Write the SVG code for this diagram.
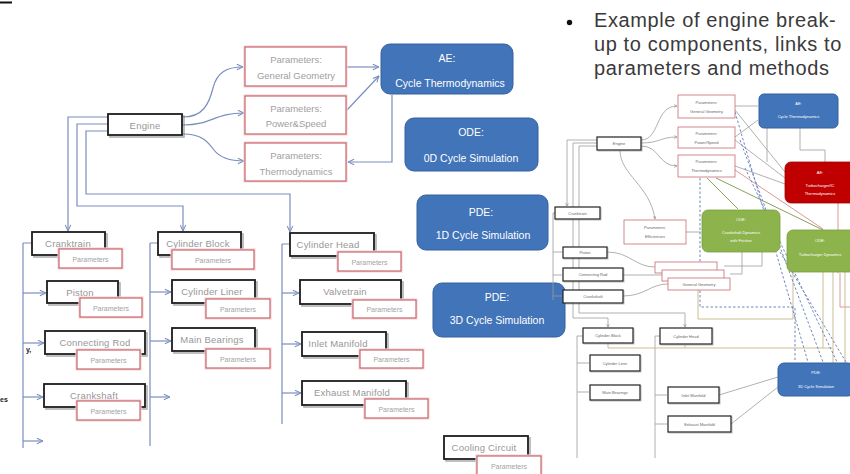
<svg xmlns="http://www.w3.org/2000/svg" width="850" height="474" viewBox="0 0 850 474">
<defs>
  <marker id="arr" viewBox="0 0 8 8" refX="7.5" refY="4" markerWidth="7" markerHeight="7" orient="auto" markerUnits="userSpaceOnUse">
    <path d="M0.5,0.8 L7.5,4 L0.5,7.2" fill="none" stroke="#7A8EBE" stroke-width="1.2"/>
  </marker>
  <marker id="marr" viewBox="0 0 6 6" refX="5.5" refY="3" markerWidth="3.5" markerHeight="3.5" orient="auto" markerUnits="userSpaceOnUse">
    <path d="M0.5,0.5 L5.5,3 L0.5,5.5" fill="none" stroke="#8a8a8a" stroke-width="1"/>
  </marker>
</defs>
<style>
  .comp { fill:#fff; stroke:#1c1c1c; stroke-width:1.8 }
  .shd { fill:none; stroke:#6d6d6d; stroke-width:1.6; opacity:.55 }
  .par { fill:#fff; stroke:#C35A62; stroke-width:1.1 }
  .halo { fill:none; stroke:#F5D5D8; stroke-width:3.2 }
  .blue { fill:#4174B8; stroke:#35619E; stroke-width:1 }
  .t { font-family:"Liberation Sans", Arial, sans-serif; text-anchor:middle; dominant-baseline:central; fill:#979797 }
  .tc { font-size:9.5px; letter-spacing:.2px }
  .tp { font-size:7px; fill:#a3a3a3 }
  .tq { font-size:9.5px; fill:#a0a0a0 }
  .tb { font-size:10.5px; fill:#fff }
  .conn path { fill:none; stroke:#7A8EBE; stroke-width:1.2 }
  /* overview sketch */
  .mc { fill:#fff; stroke:#222; stroke-width:1.2 }
  .ms { fill:none; stroke:#777; stroke-width:1; opacity:.5 }
  .mp { fill:#fff; stroke:#C96A70; stroke-width:.8 }
  .mt { font-family:"Liberation Sans", Arial, sans-serif; text-anchor:middle; dominant-baseline:central; font-size:4px; fill:#666 }
  .mw { fill:#fff }
  .ml path { fill:none; stroke:#9d9d9d; stroke-width:.8 }
  .md { fill:none; stroke:#6F88C0; stroke-width:1; stroke-dasharray:2.5 2 }
  .mo { fill:none; stroke:#8EA05A; stroke-width:1 }
  .mn { fill:none; stroke:#CBBE92; stroke-width:1 }
  .mr { fill:none; stroke:#D77C7C; stroke-width:.8 }
</style>

<rect width="850" height="474" fill="#fff"/>

<!-- fragments at the left margin -->
<rect x="0" y="1.5" width="12" height="2" fill="#111"/>
<text x="26" y="352" font-family="Liberation Sans, sans-serif" font-size="7" font-weight="bold" fill="#222">y,</text>
<text x="0" y="402" font-family="Liberation Sans, sans-serif" font-size="7" font-weight="bold" fill="#222">es</text>

<!-- ===== connectors of the engine tree ===== -->
<g id="connectors" class="conn">
  <path d="M183,117 C203,117 209,104 213,88 C217,72 227,67 243,67" marker-end="url(#arr)"/>
  <path d="M183,125 C212,125 214,113 244,113" marker-end="url(#arr)"/>
  <path d="M183,134 C202,134 208,142 214,150 C220,158 230,161 244,161" marker-end="url(#arr)"/>
  <path d="M347,67 H379" marker-end="url(#arr)"/>
  <path d="M347,110 L379,76" marker-end="url(#arr)"/>
  <path d="M392,95 V162 H348" marker-end="url(#arr)"/>
  <path d="M108,117 H68 V231" marker-end="url(#arr)"/>
  <path d="M108,124 H77 V206 H183 V231" marker-end="url(#arr)"/>
  <path d="M108,131 H86 V194 H290 V232" marker-end="url(#arr)"/>
  <!-- cranktrain column -->
  <path d="M23,243 V448 M23,243 H32"/>
  <path d="M23,293 H46" marker-end="url(#arr)"/>
  <path d="M23,343 H44" marker-end="url(#arr)"/>
  <path d="M23,397 H43" marker-end="url(#arr)"/>
  <path d="M23,441 H43" marker-end="url(#arr)"/>
  <!-- cylinder block column -->
  <path d="M150,243 V446 M150,243 H158"/>
  <path d="M150,292 H171" marker-end="url(#arr)"/>
  <path d="M150,341 H171" marker-end="url(#arr)"/>
  <path d="M150,397 H170" marker-end="url(#arr)"/>
  <!-- cylinder head column -->
  <path d="M282,244 V424 M282,244 H290"/>
  <path d="M282,293 H299" marker-end="url(#arr)"/>
  <path d="M282,344 H301" marker-end="url(#arr)"/>
  <path d="M282,393 H301" marker-end="url(#arr)"/>
</g>

<!-- ===== engine tree nodes ===== -->
<g id="engine">
  <rect class="shd" x="110" y="116" width="74" height="21"/>
  <rect class="comp" x="108" y="114" width="74" height="21"/>
  <text class="t tc" x="145" y="125">Engine</text>
</g>

<g id="params-geometry">
  <rect class="halo" x="245" y="47" width="101" height="39"/>
  <rect class="par" x="245" y="47" width="101" height="39"/>
  <text class="t tq" x="296" y="59">Parameters:</text>
  <text class="t tq" x="296" y="75">General Geometry</text>
</g>
<g id="params-power">
  <rect class="halo" x="245" y="96" width="101" height="38"/>
  <rect class="par" x="245" y="96" width="101" height="38"/>
  <text class="t tq" x="296" y="108">Parameters:</text>
  <text class="t tq" x="296" y="123">Power&amp;Speed</text>
</g>
<g id="params-thermo">
  <rect class="halo" x="245" y="143" width="101" height="38"/>
  <rect class="par" x="245" y="143" width="101" height="38"/>
  <text class="t tq" x="296" y="155">Parameters:</text>
  <text class="t tq" x="296" y="171">Thermodynamics</text>
</g>

<g id="ae-cycle">
  <rect class="blue" x="381" y="44" width="132" height="50" rx="9"/>
  <text class="t tb" x="447" y="58">AE:</text>
  <text class="t tb" x="450" y="83">Cycle Thermodynamics</text>
</g>
<g id="ode-0d">
  <rect class="blue" x="405" y="118" width="133" height="53" rx="9"/>
  <text class="t tb" x="471" y="132">ODE:</text>
  <text class="t tb" x="471" y="158">0D Cycle Simulation</text>
</g>
<g id="pde-1d">
  <rect class="blue" x="417" y="195" width="131" height="55" rx="9"/>
  <text class="t tb" x="481" y="212">PDE:</text>
  <text class="t tb" x="483" y="235">1D Cycle Simulation</text>
</g>
<g id="pde-3d">
  <rect class="blue" x="433" y="283" width="132" height="54" rx="9"/>
  <text class="t tb" x="497" y="297">PDE:</text>
  <text class="t tb" x="497" y="320">3D Cycle Simulation</text>
</g>

<!-- cranktrain branch -->
<g id="cranktrain">
  <rect class="shd" x="34" y="234" width="73" height="23"/>
  <rect class="comp" x="32" y="232" width="73" height="23"/>
  <text class="t tc" x="68" y="243">Cranktrain</text>
</g>
<g id="cranktrain-params">
  <rect class="halo" x="59" y="249" width="63" height="19"/>
  <rect class="par" x="59" y="249" width="63" height="19"/>
  <text class="t tp" x="90.5" y="259">Parameters</text>
</g>
<g id="piston">
  <rect class="shd" x="49" y="283" width="71" height="22"/>
  <rect class="comp" x="47" y="281" width="71" height="22"/>
  <text class="t tc" x="80" y="292">Piston</text>
</g>
<g id="piston-params">
  <rect class="halo" x="80" y="298" width="62" height="19"/>
  <rect class="par" x="80" y="298" width="62" height="19"/>
  <text class="t tp" x="111" y="308">Parameters</text>
</g>
<g id="connecting-rod">
  <rect class="shd" x="47" y="333" width="100" height="23"/>
  <rect class="comp" x="45" y="331" width="100" height="23"/>
  <text class="t tc" x="95" y="342">Connecting Rod</text>
</g>
<g id="connecting-rod-params">
  <rect class="halo" x="77" y="350" width="63" height="19"/>
  <rect class="par" x="77" y="350" width="63" height="19"/>
  <text class="t tp" x="108.5" y="360">Parameters</text>
</g>
<g id="crankshaft">
  <rect class="shd" x="46" y="386" width="101" height="23"/>
  <rect class="comp" x="44" y="384" width="101" height="23"/>
  <text class="t tc" x="94" y="395">Crankshaft</text>
</g>
<g id="crankshaft-params">
  <rect class="halo" x="77" y="401" width="63" height="19"/>
  <rect class="par" x="77" y="401" width="63" height="19"/>
  <text class="t tp" x="108.5" y="411">Parameters</text>
</g>

<!-- cylinder block branch -->
<g id="cylinder-block">
  <rect class="shd" x="160" y="234" width="83" height="23"/>
  <rect class="comp" x="158" y="232" width="83" height="23"/>
  <text class="t tc" x="198" y="243">Cylinder Block</text>
</g>
<g id="cylinder-block-params">
  <rect class="halo" x="172" y="250" width="82" height="19"/>
  <rect class="par" x="172" y="250" width="82" height="19"/>
  <text class="t tp" x="213" y="260">Parameters</text>
</g>
<g id="cylinder-liner">
  <rect class="shd" x="174" y="282" width="83" height="23"/>
  <rect class="comp" x="172" y="280" width="83" height="23"/>
  <text class="t tc" x="212" y="291">Cylinder Liner</text>
</g>
<g id="cylinder-liner-params">
  <rect class="halo" x="206" y="299" width="64" height="19"/>
  <rect class="par" x="206" y="299" width="64" height="19"/>
  <text class="t tp" x="238" y="309">Parameters</text>
</g>
<g id="main-bearings">
  <rect class="shd" x="174" y="330" width="83" height="23"/>
  <rect class="comp" x="172" y="328" width="83" height="23"/>
  <text class="t tc" x="212" y="339">Main Bearings</text>
</g>
<g id="main-bearings-params">
  <rect class="halo" x="206" y="349" width="64" height="19"/>
  <rect class="par" x="206" y="349" width="64" height="19"/>
  <text class="t tp" x="238" y="359">Parameters</text>
</g>

<!-- cylinder head branch -->
<g id="cylinder-head">
  <rect class="shd" x="292" y="235" width="84" height="23"/>
  <rect class="comp" x="290" y="233" width="84" height="23"/>
  <text class="t tc" x="328" y="244">Cylinder Head</text>
</g>
<g id="cylinder-head-params">
  <rect class="halo" x="338" y="252" width="63" height="19"/>
  <rect class="par" x="338" y="252" width="63" height="19"/>
  <text class="t tp" x="369.5" y="262">Parameters</text>
</g>
<g id="valvetrain">
  <rect class="shd" x="302" y="282" width="101" height="24"/>
  <rect class="comp" x="300" y="280" width="101" height="24"/>
  <text class="t tc" x="345" y="291">Valvetrain</text>
</g>
<g id="valvetrain-params">
  <rect class="halo" x="353" y="300" width="63" height="18"/>
  <rect class="par" x="353" y="300" width="63" height="18"/>
  <text class="t tp" x="384.5" y="309">Parameters</text>
</g>
<g id="inlet-manifold">
  <rect class="shd" x="304" y="334" width="84" height="24"/>
  <rect class="comp" x="302" y="332" width="84" height="24"/>
  <text class="t tc" x="338" y="343">Inlet Manifold</text>
</g>
<g id="inlet-manifold-params">
  <rect class="halo" x="360" y="350" width="63" height="18"/>
  <rect class="par" x="360" y="350" width="63" height="18"/>
  <text class="t tp" x="391.5" y="359">Parameters</text>
</g>
<g id="exhaust-manifold">
  <rect class="shd" x="304" y="383" width="104" height="24"/>
  <rect class="comp" x="302" y="381" width="104" height="24"/>
  <text class="t tc" x="352" y="392">Exhaust Manifold</text>
</g>
<g id="exhaust-manifold-params">
  <rect class="halo" x="365" y="399" width="63" height="19"/>
  <rect class="par" x="365" y="399" width="63" height="19"/>
  <text class="t tp" x="396.5" y="409">Parameters</text>
</g>

<!-- cooling -->
<g id="cooling-circuit">
  <rect class="shd" x="446" y="438" width="84" height="23"/>
  <rect class="comp" x="444" y="436" width="84" height="23"/>
  <text class="t tc" x="484" y="447">Cooling Circuit</text>
</g>
<g id="cooling-circuit-params">
  <rect class="halo" x="477" y="456" width="64" height="19"/>
  <rect class="par" x="477" y="456" width="64" height="19"/>
  <text class="t tp" x="509" y="466">Parameters</text>
</g>

<!-- ===== caption ===== -->
<g id="caption" font-family="'Liberation Sans', Arial, sans-serif" font-size="20" letter-spacing="0.6" fill="#3a3a3a">
  <circle cx="569.5" cy="22.5" r="2.7" fill="#111"/>
  <text x="594" y="27">Example of engine break-</text>
  <text x="594" y="51">up to components, links to</text>
  <text x="594" y="75">parameters and methods</text>
</g>

<!-- ===== overview sketch of the full model ===== -->
<g id="overview">
  <g id="overview-links" class="ml">
    <!-- engine tree -->
    <path d="M597,140 H567 V206" marker-end="url(#marr)"/>
    <path d="M597,143 H573 V318 H608 V327" marker-end="url(#marr)"/>
    <path d="M597,146 H579 V313 H685 V327" marker-end="url(#marr)"/>
    <path d="M553,213 V300 M553,213 H555 M553,252 H562 M553,275 H562 M553,296 H562"/>
    <path d="M577,336 V458 M577,336 H583 M577,363 H589 M577,392 H589"/>
    <path d="M655,336 V458 M655,336 H660 M655,395 H667 M655,424 H667"/>
    <!-- engine to parameter sets -->
    <path d="M641,140 C660,140 655,106 677,106" marker-end="url(#marr)"/>
    <path d="M641,143 C660,143 660,137 677,137" marker-end="url(#marr)"/>
    <path d="M641,146 C660,146 658,166 677,166" marker-end="url(#marr)"/>
    <path d="M620,150 C620,175 650,185 655,219" marker-end="url(#marr)"/>
    <path d="M686,232 H701"/>
    <!-- parameter sets to methods -->
    <path d="M735,106 H758"/>
    <path d="M735,137 L758,120"/>
    <path d="M735,110 L785,172"/>
    <path d="M735,140 L785,178"/>
    <path d="M735,166 L785,184"/>
    <path d="M767,128 V162 M800,128 V150 H825 V162"/>
    <!-- components to geometry -->
    <path d="M607,252 C630,252 635,267 655,267"/>
    <path d="M623,275 H662"/>
    <path d="M623,296 C645,296 650,284 668,284"/>
    <path d="M762,252 V266 H724 M742,252 V274 H730"/>
    <!-- manifolds to 3D simulation -->
    <path d="M719,395 L778,377"/>
    <path d="M731,424 L778,387"/>
  </g>
  <path class="mo" d="M707,178 L738,209 M716,178 L823,230"/>
  <path class="mr" d="M735,170 L823,229 M838,203 V273 M840,273 V307 H850"/>
  <path class="mn" d="M698,290 V319 H793 V272 M608,343 V348 H832 M685,345 V348 M823,272 V348 M833,272 V363 M845,272 V363"/>
  <path class="md" d="M700,178 V307 H795 V362"/>
  <path class="md" d="M735,112 L808,362 M740,140 L823,362 M745,168 L837,362 M780,252 L846,362"/>

  <g id="overview-engine">
    <rect class="ms" x="598" y="138" width="44" height="13"/>
    <rect class="mc" x="597" y="137" width="44" height="13"/>
    <text class="mt" x="619" y="143.5">Engine</text>
  </g>
  <g id="overview-params-geometry">
    <rect class="mp" x="678" y="95" width="57" height="23"/>
    <text class="mt" x="706.5" y="102">Parameters:</text>
    <text class="mt" x="706.5" y="111">General Geometry</text>
  </g>
  <g id="overview-params-power">
    <rect class="mp" x="678" y="127" width="57" height="21"/>
    <text class="mt" x="706.5" y="133">Parameters:</text>
    <text class="mt" x="706.5" y="142">Power/Speed</text>
  </g>
  <g id="overview-params-thermo">
    <rect class="mp" x="678" y="155" width="57" height="22"/>
    <text class="mt" x="706.5" y="161">Parameters:</text>
    <text class="mt" x="706.5" y="170">Thermodynamics</text>
  </g>
  <g id="overview-ae-cycle">
    <rect class="blue" x="759" y="94" width="79" height="34" rx="5"/>
    <text class="mt mw" x="798.5" y="103">AE:</text>
    <text class="mt mw" x="798.5" y="116">Cycle Thermodynamics</text>
  </g>
  <g id="overview-ae-turbo">
    <rect x="785" y="162" width="72" height="41" rx="6" fill="#C00000" stroke="#A00000" stroke-width=".8"/>
    <text class="mt mw" x="820" y="172">AE:</text>
    <text class="mt mw" x="820" y="185">Turbocharger/IC</text>
    <text class="mt mw" x="820" y="193">Thermodynamics</text>
  </g>
  <g id="overview-ode-crank">
    <rect x="702" y="210" width="78" height="42" rx="6" fill="#8CB34C" stroke="#79A03C" stroke-width=".8"/>
    <text class="mt mw" x="741" y="219">ODE:</text>
    <text class="mt mw" x="741" y="232">Crankshaft Dynamics</text>
    <text class="mt mw" x="741" y="240">with Friction</text>
  </g>
  <g id="overview-ode-turbo">
    <rect x="787" y="230" width="70" height="42" rx="6" fill="#8CB34C" stroke="#79A03C" stroke-width=".8"/>
    <text class="mt mw" x="820" y="240">ODE:</text>
    <text class="mt mw" x="820" y="254">Turbocharger Dynamics</text>
  </g>
  <g id="overview-params-eff">
    <rect class="mp" x="624" y="220" width="62" height="24"/>
    <text class="mt" x="655" y="227">Parameters:</text>
    <text class="mt" x="655" y="236">Efficiencies</text>
  </g>
  <g id="overview-cranktrain">
    <rect class="ms" x="556" y="208" width="45" height="12"/>
    <rect class="mc" x="555" y="207" width="45" height="12"/>
    <text class="mt" x="577.5" y="213">Cranktrain</text>
  </g>
  <g id="overview-piston">
    <rect class="ms" x="564" y="248" width="44" height="11"/>
    <rect class="mc" x="563" y="247" width="44" height="11"/>
    <text class="mt" x="585" y="252.5">Piston</text>
  </g>
  <g id="overview-connecting-rod">
    <rect class="ms" x="564" y="269" width="60" height="13"/>
    <rect class="mc" x="563" y="268" width="60" height="13"/>
    <text class="mt" x="593" y="274.5">Connecting Rod</text>
  </g>
  <g id="overview-crankshaft">
    <rect class="ms" x="564" y="291" width="60" height="13"/>
    <rect class="mc" x="563" y="290" width="60" height="13"/>
    <text class="mt" x="593" y="296.5">Crankshaft</text>
  </g>
  <g id="overview-geometry-stack">
    <rect class="mp" x="655" y="262" width="62" height="11"/>
    <rect class="mp" x="662" y="270" width="62" height="11"/>
    <rect class="mp" x="668" y="278" width="62" height="12"/>
    <text class="mt" x="699" y="284">General Geometry</text>
  </g>
  <g id="overview-cylinder-block">
    <rect class="ms" x="584" y="329" width="50" height="15"/>
    <rect class="mc" x="583" y="328" width="50" height="15"/>
    <text class="mt" x="608" y="335.5">Cylinder Block</text>
  </g>
  <g id="overview-cylinder-head">
    <rect class="ms" x="661" y="329" width="52" height="16"/>
    <rect class="mc" x="660" y="328" width="52" height="16"/>
    <text class="mt" x="686" y="336">Cylinder Head</text>
  </g>
  <g id="overview-cylinder-liner">
    <rect class="ms" x="591" y="356" width="50" height="16"/>
    <rect class="mc" x="590" y="355" width="50" height="16"/>
    <text class="mt" x="615" y="363">Cylinder Liner</text>
  </g>
  <g id="overview-main-bearings">
    <rect class="ms" x="591" y="386" width="50" height="15"/>
    <rect class="mc" x="590" y="385" width="50" height="15"/>
    <text class="mt" x="615" y="392.5">Main Bearings</text>
  </g>
  <g id="overview-inlet-manifold">
    <rect class="ms" x="669" y="388" width="51" height="16"/>
    <rect class="mc" x="668" y="387" width="51" height="16"/>
    <text class="mt" x="693.5" y="395">Inlet Manifold</text>
  </g>
  <g id="overview-exhaust-manifold">
    <rect class="ms" x="669" y="417" width="63" height="16"/>
    <rect class="mc" x="668" y="416" width="63" height="16"/>
    <text class="mt" x="699.5" y="424">Exhaust Manifold</text>
  </g>
  <g id="overview-pde-3d">
    <rect class="blue" x="778" y="363" width="76" height="33" rx="6"/>
    <text class="mt mw" x="816" y="372">PDE:</text>
    <text class="mt mw" x="816" y="386">3D Cycle Simulation</text>
  </g>
</g>
</svg>
